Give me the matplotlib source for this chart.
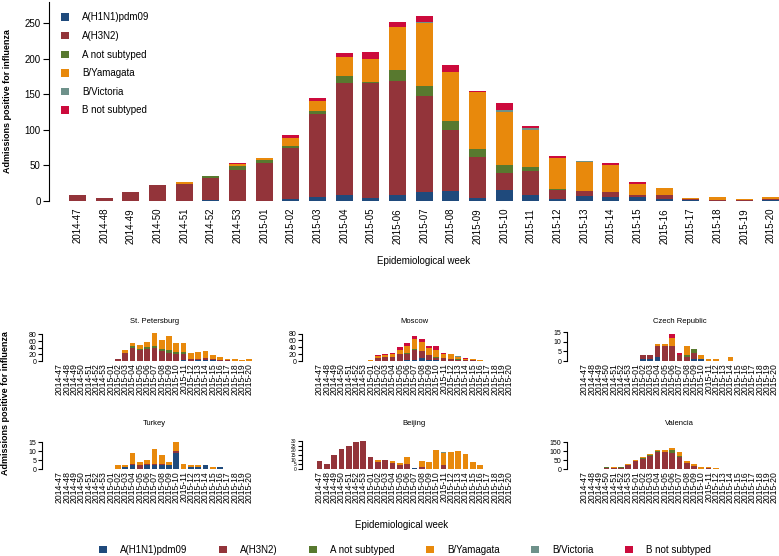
import numpy as np
import matplotlib.pyplot as plt
from matplotlib.patches import Patch

plt.rcParams['font.family'] = ['Liberation Sans', 'DejaVu Sans']

weeks = ['2014-47', '2014-48', '2014-49', '2014-50', '2014-51', '2014-52', '2014-53',
         '2015-01', '2015-02', '2015-03', '2015-04', '2015-05', '2015-06', '2015-07',
         '2015-08', '2015-09', '2015-10', '2015-11', '2015-12', '2015-13', '2015-14',
         '2015-15', '2015-16', '2015-17', '2015-18', '2015-19', '2015-20']
subtypes = ['A(H1N1)pdm09', 'A(H3N2)', 'A not subtyped', 'B/Yamagata', 'B/Victoria', 'B not subtyped']
colors = ['#1F4A7C', '#93343A', '#58792F', '#E8890C', '#6E918A', '#CC0A3C']

# all sites together
h1n1 = [0, 0, 0, 0, 0, 1, 0, 0, 3, 5, 8, 4, 8, 12, 14, 4, 15, 8, 3, 7, 5, 6, 3, 1, 0, 0, 1]
h3n2 = [9, 4, 13, 22, 24, 31, 43, 53, 72, 117, 157, 161, 160, 136, 85, 58, 25, 34, 12, 7, 7, 2, 5, 2, 1, 1, 2]
a_nst = [0, 0, 0, 1, 0, 3, 6, 4, 2, 4, 10, 2, 16, 14, 14, 11, 10, 6, 2, 0, 0, 0, 0, 0, 0, 0, 0]
b_yam = [0, 0, 0, 0, 2, 0, 3, 4, 12, 15, 27, 33, 61, 88, 68, 80, 75, 52, 44, 41, 38, 16, 10, 1, 5, 2, 3]
b_vic = [0, 0, 0, 0, 0, 0, 0, 0, 0, 0, 0, 0, 0, 1, 0, 0, 3, 2, 0, 1, 0, 0, 0, 0, 0, 0, 0]
b_nst = [0, 0, 0, 0, 0, 0, 1, 0, 4, 4, 6, 9, 7, 9, 10, 2, 10, 3, 2, 0, 3, 3, 0, 0, 0, 0, 0]

# per site, rows in the order of subtypes
st_petersburg = [
    [0, 0, 0, 0, 0, 0, 0, 0, 0, 0, 1, 0, 0, 0, 0, 0, 0, 4, 0, 2, 2, 2, 0, 0, 0, 0, 0],
    [0, 0, 0, 0, 0, 0, 0, 0, 5, 23, 39, 32, 37, 39, 30, 24, 22, 18, 7, 5, 6, 3, 3, 2, 1, 0, 1],
    [0, 0, 0, 0, 0, 0, 0, 0, 0, 1, 4, 3, 5, 6, 5, 8, 5, 5, 0, 0, 1, 0, 0, 0, 0, 0, 0],
    [0, 0, 0, 0, 0, 0, 0, 0, 0, 8, 10, 12, 16, 39, 29, 42, 28, 28, 16, 20, 21, 12, 8, 3, 6, 4, 6],
    [0, 0, 0, 0, 0, 0, 0, 0, 0, 0, 0, 0, 0, 0, 0, 0, 0, 0, 0, 0, 0, 0, 0, 0, 0, 0, 0],
    [0, 0, 0, 0, 0, 0, 0, 0, 0, 0, 0, 0, 0, 0, 0, 0, 0, 0, 0, 0, 0, 0, 0, 0, 0, 0, 0],
]
moscow = [
    [0, 0, 0, 0, 0, 0, 0, 0, 0, 0, 0, 1, 2, 3, 8, 2, 3, 0, 1, 0, 0, 0, 0, 0, 0, 0, 0],
    [0, 0, 0, 0, 0, 0, 0, 0, 8, 13, 12, 20, 18, 30, 20, 16, 7, 8, 6, 3, 2, 2, 0, 0, 0, 0, 0],
    [0, 0, 0, 0, 0, 0, 0, 0, 0, 0, 0, 0, 2, 3, 2, 0, 2, 0, 0, 2, 0, 0, 0, 0, 0, 0, 0],
    [0, 0, 0, 0, 0, 0, 0, 2, 6, 5, 8, 10, 21, 28, 25, 20, 20, 12, 12, 6, 5, 3, 3, 0, 0, 0, 0],
    [0, 0, 0, 0, 0, 0, 0, 0, 0, 0, 0, 0, 0, 0, 0, 0, 0, 0, 0, 3, 0, 0, 0, 0, 0, 0, 0],
    [0, 0, 0, 0, 0, 0, 0, 0, 4, 3, 4, 9, 8, 10, 10, 5, 11, 4, 2, 0, 1, 0, 1, 0, 0, 0, 0],
]
czech = [
    [0, 0, 0, 0, 0, 0, 0, 0, 1, 1, 2, 0, 0, 0, 0, 1, 1, 0, 0, 0, 0, 0, 0, 0, 0, 0, 0],
    [0, 0, 0, 0, 0, 0, 0, 0, 2, 2, 6, 8, 8, 3, 2, 3, 0, 0, 0, 0, 0, 0, 0, 0, 0, 0, 0],
    [0, 0, 0, 0, 0, 0, 0, 0, 0, 0, 0, 0, 0, 0, 1, 2, 0, 0, 0, 0, 0, 0, 0, 0, 0, 0, 0],
    [0, 0, 0, 0, 0, 0, 0, 0, 0, 0, 1, 1, 4, 0, 5, 0, 2, 1, 1, 0, 2, 0, 0, 0, 0, 0, 0],
    [0, 0, 0, 0, 0, 0, 0, 0, 0, 0, 0, 0, 0, 0, 0, 0, 0, 0, 0, 0, 0, 0, 0, 0, 0, 0, 0],
    [0, 0, 0, 0, 0, 0, 0, 0, 0, 0, 0, 0, 2, 1, 0, 0, 0, 0, 0, 0, 0, 0, 0, 0, 0, 0, 0],
]
turkey = [
    [0, 0, 0, 0, 0, 0, 0, 0, 0, 1, 2, 0, 2, 2, 2, 2, 9, 0, 1, 1, 2, 0, 1, 0, 0, 0, 0],
    [0, 0, 0, 0, 0, 0, 0, 0, 0, 0, 1, 2, 1, 1, 1, 0, 1, 0, 0, 0, 0, 0, 0, 0, 0, 0, 0],
    [0, 0, 0, 0, 0, 0, 0, 0, 0, 0, 0, 0, 0, 0, 0, 0, 0, 0, 0, 0, 0, 0, 0, 0, 0, 0, 0],
    [0, 0, 0, 0, 0, 0, 0, 0, 2, 1, 6, 2, 2, 8, 5, 2, 5, 3, 1, 1, 0, 1, 0, 0, 0, 0, 0],
    [0, 0, 0, 0, 0, 0, 0, 0, 0, 0, 0, 0, 0, 0, 0, 0, 0, 0, 0, 0, 0, 0, 0, 0, 0, 0, 0],
    [0, 0, 0, 0, 0, 0, 0, 0, 0, 0, 0, 0, 0, 0, 0, 0, 0, 0, 0, 0, 0, 0, 0, 0, 0, 0, 0],
]
beijing = [
    [0, 0, 0, 0, 0, 0, 0, 0, 0, 0, 0, 0, 0, 1, 0, 0, 0, 0, 0, 0, 0, 0, 0, 0, 0, 0, 0],
    [9, 5, 15, 22, 25, 29, 30, 13, 8, 10, 7, 4, 5, 0, 2, 0, 0, 4, 0, 0, 0, 0, 0, 0, 0, 0, 0],
    [0, 0, 0, 0, 0, 0, 0, 0, 0, 0, 0, 0, 0, 0, 0, 0, 0, 0, 0, 0, 0, 0, 0, 0, 0, 0, 0],
    [0, 0, 0, 0, 0, 0, 0, 0, 2, 0, 2, 3, 8, 0, 7, 8, 20, 13, 18, 19, 16, 8, 4, 0, 0, 0, 0],
    [0, 0, 0, 0, 0, 0, 0, 0, 0, 0, 0, 0, 0, 0, 0, 0, 0, 1, 0, 0, 0, 0, 0, 0, 0, 0, 0],
    [0, 0, 0, 0, 0, 0, 0, 0, 0, 0, 0, 0, 0, 0, 0, 0, 0, 0, 0, 0, 0, 0, 0, 0, 0, 0, 0],
]
valencia = [
    [0, 0, 0, 0, 0, 0, 0, 0, 0, 0, 0, 0, 0, 0, 0, 0, 0, 0, 0, 0, 0, 0, 0, 0, 0, 0, 0],
    [0, 0, 0, 4, 5, 7, 22, 45, 55, 72, 93, 92, 88, 68, 33, 15, 2, 3, 1, 0, 0, 0, 0, 0, 0, 0, 0],
    [0, 0, 0, 5, 0, 4, 3, 0, 4, 6, 6, 3, 18, 7, 3, 2, 0, 0, 0, 0, 0, 0, 0, 0, 0, 0, 0],
    [0, 0, 0, 0, 4, 0, 5, 7, 8, 7, 8, 12, 12, 18, 7, 9, 9, 8, 5, 0, 0, 0, 0, 0, 0, 0, 0],
    [0, 0, 0, 0, 0, 0, 0, 0, 0, 0, 0, 0, 0, 0, 0, 0, 0, 0, 0, 0, 0, 0, 0, 0, 0, 0, 0],
    [0, 0, 0, 0, 0, 0, 0, 0, 0, 0, 0, 0, 0, 0, 0, 0, 0, 0, 0, 0, 0, 0, 0, 0, 0, 0, 0],
]

sites = ['St. Petersburg', 'Moscow', 'Czech Republic', 'Turkey', 'Beijing', 'Valencia']
site_data = [st_petersburg, moscow, czech, turkey, beijing, valencia]
site_ylim = [99, 96, 17.1, 21.7, 42, 217]
site_ticks = [[0, 20, 40, 60, 80], [0, 20, 40, 60, 80], [0, 5, 10, 15],
              [0, 5, 10, 15], [0, 5, 10, 15, 20, 25, 30], [0, 50, 100, 150]]


def stacked(ax, rows, width):
    x = np.arange(len(weeks))
    bottom = np.zeros(len(weeks))
    for vals, c in zip(rows, colors):
        vals = np.array(vals, dtype=float)
        ax.bar(x, vals, width, bottom=bottom, color=c, edgecolor='none')
        bottom += vals


def r_style(ax):
    for s in ['top', 'right', 'bottom']:
        ax.spines[s].set_visible(False)
    ax.spines['left'].set_linewidth(0.8)


W, H = 779, 556
fig = plt.figure(figsize=(W / 100, H / 100), dpi=100)

# main chart
ax = fig.add_axes([49 / W, 1 - 201 / H, 751 / W, 199.4 / H])
stacked(ax, [h1n1, h3n2, a_nst, b_yam, b_vic, b_nst], 0.64)
r_style(ax)
ax.set_xlim(-1.07, 27.09)
ax.set_ylim(0, 280)
ax.set_yticks([0, 50, 100, 150, 200, 250])
ax.set_xticks(np.arange(len(weeks)))
ax.set_xticklabels(weeks, rotation=90, fontsize=7)
ax.tick_params(axis='x', length=0, pad=5)
ax.tick_params(axis='y', labelsize=7, length=4.5, width=0.8, pad=1.5)
fig.text(424 / W, 1 - 261 / H, 'Epidemiological week', fontsize=7, ha='center', va='center')
fig.text(7.5 / W, 1 - 101 / H, 'Admissions positive for influenza', fontsize=6.5,
         fontweight='bold', rotation=90, ha='center', va='center')

handles = [Patch(facecolor=c, edgecolor='none') for c in colors]
fig.legend(handles, subtypes, loc='upper left', bbox_to_anchor=(61 / W, 1 - 12.5 / H),
           frameon=False, fontsize=7, handlelength=0.8, handleheight=0.8,
           handletextpad=1.35, labelspacing=0.88, borderpad=0, borderaxespad=0)

# small panels
col_x = [42, 302, 567]
row_box = [(328, 361), (430, 469)]
step = 7.3
for i, (name, rows) in enumerate(zip(sites, site_data)):
    top, bot = row_box[i // 3]
    left = col_x[i % 3]
    pax = fig.add_axes([left / W, 1 - bot / H, 30.8 * step / W, (bot - top) / H])
    stacked(pax, rows, 0.78)
    r_style(pax)
    pax.set_xlim(-2.4, 28.4)
    pax.set_ylim(0, site_ylim[i])
    pax.set_yticks(site_ticks[i])
    pax.spines['left'].set_bounds(0, site_ticks[i][-1])
    pax.set_xticks(np.arange(len(weeks)))
    pax.set_xticklabels(weeks, rotation=90, fontsize=6.2)
    pax.tick_params(axis='x', length=0, pad=1.5)
    ysize = 3.5 if name == 'Beijing' else 5
    pax.tick_params(axis='y', labelsize=ysize, length=3, width=0.8, pad=1)
    pax.set_title(name, fontsize=5.5, pad=3.5)

fig.text(402 / W, 1 - 525 / H, 'Epidemiological week', fontsize=7, ha='center', va='center')
fig.text(6 / W, 1 - 403 / H, 'Admissions positive for influenza', fontsize=6.5,
         fontweight='bold', rotation=90, ha='center', va='center')
fig.legend(handles, subtypes, loc='center', bbox_to_anchor=(405 / W, 1 - 550 / H),
           ncol=6, frameon=False, fontsize=7, handlelength=0.8, handleheight=0.8,
           handletextpad=1.4, columnspacing=3.2, borderpad=0, borderaxespad=0)

fig.savefig('out.png', dpi=100)
